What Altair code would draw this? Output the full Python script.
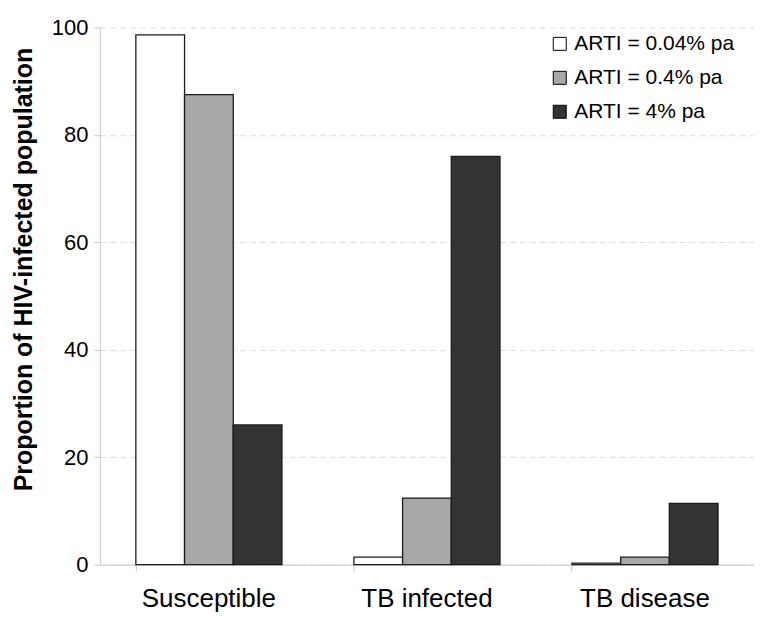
import altair as alt
import pandas as pd

categories = ["Susceptible", "TB infected", "TB disease"]
series = ["ARTI = 0.04% pa", "ARTI = 0.4% pa", "ARTI = 4% pa"]
v_004 = [98.6, 1.4, 0.3]
v_04 = [87.5, 12.4, 1.4]
v_4 = [26.0, 76.0, 11.4]

rows = []
for i, c in enumerate(categories):
    for s, vals in zip(series, [v_004, v_04, v_4]):
        rows.append({"category": c, "series": s, "value": vals[i]})
df = pd.DataFrame(rows)

font = "Liberation Sans"

chart = alt.Chart(df).mark_bar(stroke="#1a1a1a", strokeWidth=1.3).encode(
    x=alt.X("category:N", sort=categories, title=None,
            scale=alt.Scale(paddingInner=0.33, paddingOuter=0.165),
            axis=alt.Axis(labelAngle=0, labelFontSize=26, labelFont=font, labelColor="black",
                          domainColor="#c8c8c8", tickColor="#c8c8c8", tickSize=6,
                          bandPosition=0, labelPadding=15, grid=False, labelLimit=300)),
    xOffset=alt.XOffset("series:N", sort=series),
    y=alt.Y("value:Q", scale=alt.Scale(domain=[0, 100]),
            title="Proportion of HIV-infected population",
            axis=alt.Axis(values=[0, 20, 40, 60, 80, 100], labelFontSize=22, labelFont=font,
                          labelColor="black", domainColor="#c8c8c8", tickColor="#c8c8c8",
                          tickSize=6, labelPadding=6, gridDash=[6, 4], gridColor="#dcdcdc",
                          titleFont=font, titleFontSize=25, titleFontWeight="bold",
                          titleColor="black", titleAngle=270, titleAlign="center",
                          titleBaseline="middle", titleX=-76, titleY=242)),
    fill=alt.Fill("series:N", sort=series,
                  scale=alt.Scale(domain=series, range=["#ffffff", "#a8a8a8", "#333333"]),
                  legend=alt.Legend(title=None, orient="none", legendX=450, legendY=6,
                                    labelFont=font, labelFontSize=21, labelColor="black",
                                    labelLimit=300,
                                    symbolType="square", symbolSize=169, symbolStrokeColor="black",
                                    symbolStrokeWidth=1, rowPadding=12, labelOffset=4, padding=0)),
).properties(
    width=655, height=538,
    padding={"left": 92, "top": 19, "right": 0, "bottom": 50},
    autosize=alt.AutoSizeParams(type="none"),
).configure_view(stroke=None)

chart.save("out.html", embed_options={"renderer": "svg", "actions": False})
